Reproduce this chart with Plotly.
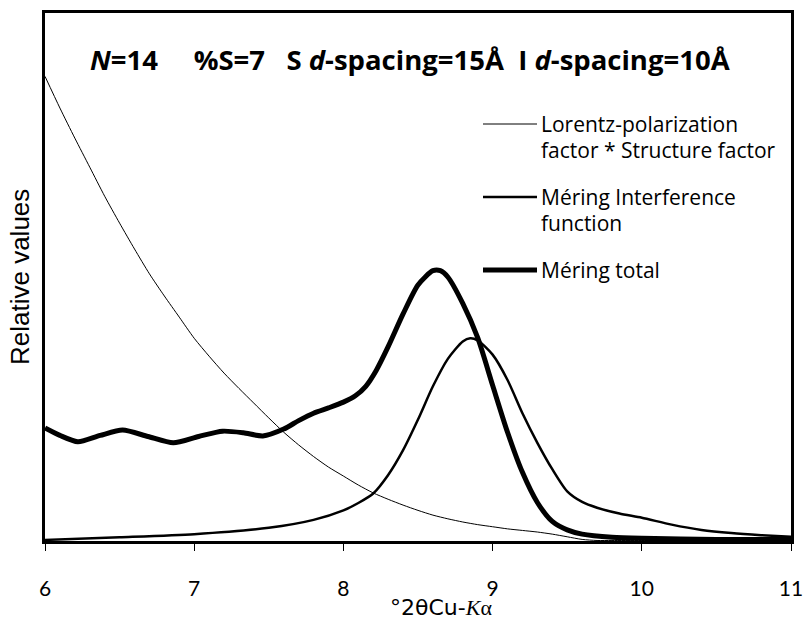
import plotly.graph_objects as go

# ---- data (relative values) ----
lp_x = [6.0, 6.1, 6.2, 6.3, 6.4, 6.5, 6.6, 6.7, 6.8, 6.9, 7.0, 7.1, 7.2, 7.3, 7.4, 7.5, 7.6, 7.7,
        7.8, 7.9, 8.0, 8.1, 8.2, 8.3, 8.4, 8.5, 8.6, 8.7, 8.8, 8.9, 9.0, 9.1, 9.2, 9.3, 9.4, 9.5,
        9.6, 9.7, 9.8, 10.0, 10.5, 11.0]
lp_y = [88.0, 82.0, 76.3, 70.8, 65.3, 60.2, 55.3, 50.6, 46.4, 42.4, 38.4, 35.0, 31.8, 28.9, 26.1,
        23.3, 20.6, 18.2, 16.0, 14.0, 12.3, 10.6, 9.1, 7.9, 6.8, 5.8, 4.9, 4.2, 3.6, 3.1, 2.7,
        2.3, 2.0, 1.7, 1.3, 0.8, 0.3, 0.1, 0.1, 0.1, 0.1, 0.1]

mi_x = [6.0, 6.5, 7.0, 7.5, 7.8, 8.0, 8.1, 8.2, 8.3, 8.4, 8.5, 8.6, 8.7, 8.8, 8.85, 8.9, 9.0,
        9.1, 9.2, 9.3, 9.4, 9.5, 9.6, 9.7, 9.85, 10.0, 10.2, 10.4, 10.6, 10.8, 11.0]
mi_y = [0.2, 0.7, 1.3, 2.5, 4.0, 5.8, 7.2, 9.0, 12.5, 17.2, 23.0, 29.3, 34.5, 37.8, 38.4, 38.0, 35.3,
        30.5, 24.2, 18.6, 13.6, 9.4, 7.4, 6.3, 5.2, 4.4, 3.1, 2.1, 1.5, 1.1, 0.8]

mt_x = [6.0, 6.1, 6.22, 6.37, 6.52, 6.69, 6.86, 7.03, 7.19, 7.33, 7.46, 7.6, 7.7, 7.8, 7.9, 8.0,
        8.08, 8.15, 8.22, 8.3, 8.4, 8.5, 8.6, 8.65, 8.7, 8.8, 8.9, 9.0, 9.1, 9.2, 9.3, 9.4, 9.5,
        9.6, 9.8, 10.0, 10.5, 11.0]
mt_y = [21.4, 20.0, 18.8, 20.0, 21.0, 19.8, 18.6, 19.8, 20.8, 20.5, 19.9, 21.2, 22.8, 24.2, 25.2,
        26.3, 27.5, 29.3, 32.3, 36.8, 43.0, 48.5, 51.2, 51.2, 50.0, 45.0, 38.5, 29.5, 20.6, 13.0,
        7.3, 3.7, 2.1, 1.3, 0.7, 0.5, 0.3, 0.3]

x_ticks = [6, 7, 8, 9, 10, 11]
legend_names = ["Lorentz-polarization<br>factor * Structure factor",
                "Méring Interference<br>function",
                "Méring total"]

fig = go.Figure()
widths = [1, 2.5, 5]
for xs, ys, w in [(lp_x, lp_y, widths[0]), (mi_x, mi_y, widths[1]), (mt_x, mt_y, widths[2])]:
    fig.add_trace(go.Scatter(x=xs, y=ys, mode="lines",
                             line=dict(color="black", width=w, shape="spline", smoothing=0.7),
                             showlegend=False, hoverinfo="skip"))

L, R, T, B = 45, 12, 13, 82
W, H = 803, 623
pw, ph = W - L - R, H - T - B

def px2x(px):
    return (px - L) / pw

def py2y(py):
    return (H - B - py) / ph

# custom legend
leg_rows = [124, 197, 270]
for i, (row, w) in enumerate(zip(leg_rows, widths)):
    fig.add_shape(type="line", xref="paper", yref="paper",
                  x0=px2x(483), x1=px2x(537), y0=py2y(row), y1=py2y(row),
                  line=dict(color="black", width=w))
    parts = legend_names[i].split("<br>")
    for j, part in enumerate(parts):
        fig.add_annotation(text=part, xref="paper", yref="paper",
                           x=px2x(539), y=py2y(row + 26 * j), xanchor="left", yanchor="middle",
                           showarrow=False, font=dict(family="Open Sans", size=21, color="black"))

nb = "\u00a0"
title = (f"<i>N</i>=14{nb*5}%S=7{nb*3}S <i>d</i>-spacing=15Å{nb*2}I <i>d</i>-spacing=10Å")
fig.add_annotation(text=title, xref="paper", yref="paper", x=px2x(410), y=py2y(60),
                   xanchor="center", yanchor="middle", showarrow=False,
                   font=dict(family="Open Sans", size=27.5, color="black", weight="bold"))

fig.add_annotation(text="Relative values", xref="paper", yref="paper", x=px2x(20), y=py2y(277),
                   xanchor="center", yanchor="middle", textangle=-90, showarrow=False,
                   font=dict(family="Liberation Sans", size=26, color="black"))

fig.add_annotation(text="°2θCu-<span style='font-family:Liberation Serif'><i>K</i>α</span>",
                   xref="paper", yref="paper", x=px2x(441), y=py2y(607),
                   xanchor="center", yanchor="middle", showarrow=False,
                   font=dict(family="DejaVu Sans", size=22, color="black"))

fig.update_layout(
    width=W, height=H, margin=dict(l=L, r=R, t=T, b=B, autoexpand=False),
    plot_bgcolor="white", paper_bgcolor="white",
    xaxis=dict(range=[6, 11], tickvals=x_ticks, ticktext=[str(t) for t in x_ticks],
               showgrid=False, zeroline=False, showline=True, linecolor="black", linewidth=2.5,
               mirror=True, ticks="outside", ticklen=7, tickwidth=1, tickcolor="black",
               automargin=False, ticklabeloverflow="allow",
               tickfont=dict(family="Lato", size=21, color="black"), ticklabelstandoff=20),
    yaxis=dict(range=[0, 100], showticklabels=False, showgrid=False, zeroline=False,
               automargin=False,
               showline=True, linecolor="black", linewidth=2.5, mirror=True, ticks=""),
)

fig.write_html("out.html")
